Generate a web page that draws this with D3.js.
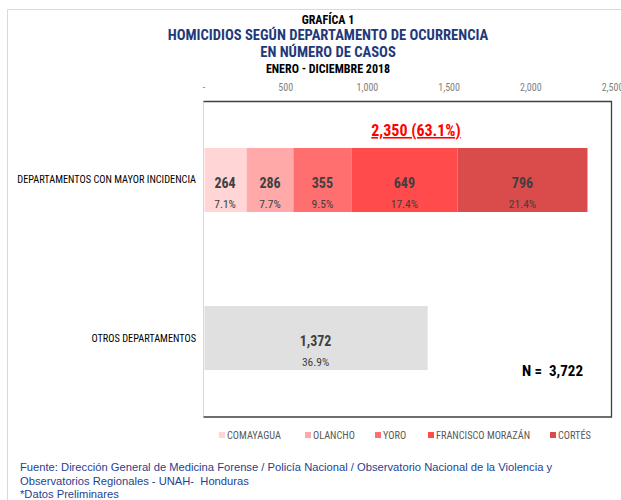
<!DOCTYPE html>
<html><head><meta charset="utf-8">
<script src="https://cdn.jsdelivr.net/npm/d3@7"></script>
<style>body{margin:0;background:#fff;} svg{display:block;}</style>
</head><body>
<svg id="chart" width="621" height="500"></svg>
<script>
const departments = ["COMAYAGUA", "OLANCHO", "YORO", "FRANCISCO MORAZÁN", "CORTÉS"];
const deptValues = [264, 286, 355, 649, 796];
const deptPct = ["7.1%", "7.7%", "9.5%", "17.4%", "21.4%"];
const deptColors = ["#FFD5D5", "#FFA9A9", "#FF6F6F", "#FF4B4B", "#DA4B4B"];
const categories = ["DEPARTAMENTOS CON MAYOR INCIDENCIA", "OTROS DEPARTAMENTOS"];
const otherValue = 1372;
const otherPct = "36.9%";
const topTotalLabel = "2,350 (63.1%)";
const totalLabel = "N =\u00A0\u00A03,722";
const tickValues = [0, 500, 1000, 1500, 2000, 2500];

(function(){
const svg = d3.select("#chart");
const narrow = "'Liberation Sans Narrow', 'Roboto Condensed', 'Liberation Sans', sans-serif";
const arial = "'Liberation Sans', Arial, sans-serif";

// outer frame
svg.append("path").attr("d", "M7.5,500 V9.5 H621").attr("fill", "none").attr("stroke", "#d9d9d9");

// titles
const titles = [
  {t: "GRAFÍCA 1", y: 24, s: 12, c: "#000"},
  {t: "HOMICIDIOS SEGÚN DEPARTAMENTO DE OCURRENCIA", y: 40, s: 14.6, c: "#1F3A7A"},
  {t: "EN NÚMERO DE CASOS", y: 56.5, s: 14.6, c: "#1F3A7A"},
  {t: "ENERO - DICIEMBRE 2018", y: 72.5, s: 12, c: "#000"}
];
svg.selectAll("text.title").data(titles).join("text").attr("class", "title")
  .attr("x", 328).attr("y", d => d.y).attr("text-anchor", "middle")
  .attr("font-family", narrow).attr("font-weight", "bold")
  .attr("font-size", d => d.s).attr("fill", d => d.c).text(d => d.t);

const pl = 203.5, pr = 611.5, pt = 101.5, pb = 417;
const x = d3.scaleLinear().domain([0, 2500]).range([pl, 612]);
const y = d3.scaleBand().domain(categories).range([111, 407]).paddingInner(0.595).paddingOuter(0.234);

// axis on top
const axis = d3.axisTop(x).tickValues(tickValues).tickSize(0)
  .tickFormat(d => d === 0 ? "-" : d3.format(",")(d));
const ag = svg.append("g").attr("transform", `translate(0,${94})`).call(axis);
ag.select(".domain").remove();
ag.selectAll("text").attr("font-family", narrow).attr("font-size", 10).attr("fill", "#7f7f7f");

// plot frame
svg.append("line").attr("x1", pl).attr("x2", pl).attr("y1", pt).attr("y2", pb).attr("stroke", "#d9d9d9");
svg.append("path").attr("d", `M${pl},${pt} H${pr} V${pb} H${pl}`).attr("fill", "none").attr("stroke", "#404040").attr("stroke-width", 1.3);

// stacked data
let cum = 0;
const stacked = deptValues.map((v, i) => { const s = {name: departments[i], v, x0: cum, x1: cum + v, pct: deptPct[i], color: deptColors[i]}; cum += v; return s; });
const y0 = y(categories[0]), bh = y.bandwidth();

svg.selectAll("rect.seg").data(stacked).join("rect").attr("class", "seg")
  .attr("x", d => x(d.x0) + (d.x0 === 0 ? 1 : 0)).attr("width", d => x(d.x1) - x(d.x0) - (d.x0 === 0 ? 1 : 0))
  .attr("y", y0).attr("height", bh).attr("fill", d => d.color);

svg.selectAll("text.val").data(stacked).join("text").attr("class", "val")
  .attr("x", d => (x(d.x0) + x(d.x1)) / 2).attr("y", y0 + bh * 0.5 + 8)
  .attr("text-anchor", "middle").attr("font-family", narrow).attr("font-weight", "bold")
  .attr("font-size", 14).attr("fill", "#404040").text(d => d3.format(",")(d.v));
svg.selectAll("text.pct").data(stacked).join("text").attr("class", "pct")
  .attr("x", d => (x(d.x0) + x(d.x1)) / 2).attr("y", y0 + bh * 0.5 + 28)
  .attr("text-anchor", "middle").attr("font-family", narrow)
  .attr("font-size", 11.5).attr("fill", "#404040").text(d => d.pct);

// total label above
svg.append("text").attr("x", 416).attr("y", y0 - 12).attr("text-anchor", "middle")
  .attr("font-family", narrow).attr("font-weight", "bold").attr("font-size", 16)
  .attr("fill", "#FF0000").attr("text-decoration", "underline").text(topTotalLabel);

// other bar
const y1 = y(categories[1]);
svg.append("rect").attr("x", x(0) + 1).attr("width", x(otherValue) - x(0) - 1)
  .attr("y", y1).attr("height", bh).attr("fill", "#E0E0E0");
svg.append("text").attr("x", (x(0) + x(otherValue)) / 2).attr("y", y1 + bh * 0.5 + 8)
  .attr("text-anchor", "middle").attr("font-family", narrow).attr("font-weight", "bold")
  .attr("font-size", 14).attr("fill", "#404040").text(d3.format(",")(otherValue));
svg.append("text").attr("x", (x(0) + x(otherValue)) / 2).attr("y", y1 + bh * 0.5 + 28)
  .attr("text-anchor", "middle").attr("font-family", narrow)
  .attr("font-size", 11.5).attr("fill", "#404040").text(otherPct);

// category labels
svg.selectAll("text.cat").data(categories).join("text").attr("class", "cat")
  .attr("x", 196).attr("y", d => y(d) + bh / 2 + 3.5).attr("text-anchor", "end")
  .attr("font-family", narrow).attr("font-size", 10.3).attr("fill", "#000").text(d => d);

// N label
svg.append("text").attr("x", 583).attr("y", 376).attr("text-anchor", "end")
  .attr("font-family", narrow).attr("font-weight", "bold").attr("font-size", 15)
  .attr("fill", "#000").text(totalLabel);

// legend
const legendX = [219, 305, 375, 428, 550];
const lg = svg.selectAll("g.leg").data(departments).join("g").attr("class", "leg")
  .attr("transform", (d, i) => `translate(${legendX[i]},${432})`);
lg.append("rect").attr("width", 6).attr("height", 6).attr("fill", (d, i) => deptColors[i]);
lg.append("text").attr("x", 8).attr("y", 7).attr("font-family", narrow)
  .attr("font-size", 10.3).attr("fill", "#595959").text(d => d);

// footer
const footer = ["Fuente: Dirección General de Medicina Forense / Policía Nacional / Observatorio Nacional de la Violencia y",
  "Observatorios Regionales - UNAH-  Honduras", "*Datos Preliminares"];
svg.selectAll("text.foot").data(footer).join("text").attr("class", "foot")
  .attr("x", 20).attr("y", (d, i) => 471 + i * 13.5).attr("font-family", arial)
  .attr("font-size", 11.2).attr("fill", "#1F3F8F").attr("xml:space", "preserve").text(d => d);
})();
</script>
</body></html>
